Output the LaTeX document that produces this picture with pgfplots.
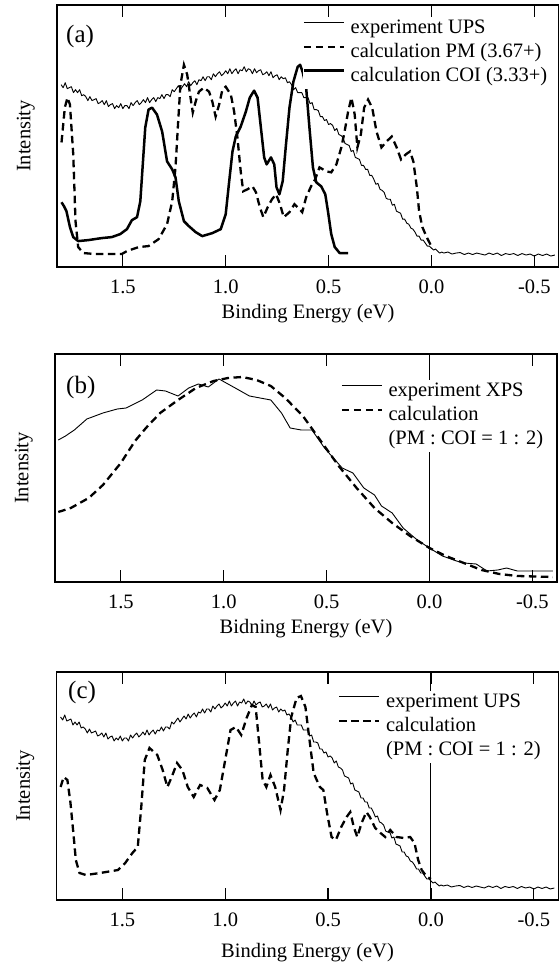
\documentclass[border=0pt]{standalone}
\usepackage{fontspec}
\setmainfont{Liberation Serif}
\usepackage{pgfplots}
\usepackage{pgfplotstable}
\pgfplotsset{compat=1.18}

% experiment UPS (panels a and c)
\pgfplotstableread{
E v
1.80 183
1.79 180
1.78 185
1.77 179
1.76 180
1.75 181
1.74 175
1.73 178
1.72 175
1.71 178
1.70 172
1.69 173
1.68 171
1.67 167
1.66 171
1.65 167
1.64 168
1.63 169
1.62 164
1.61 165
1.60 167
1.59 163
1.58 167
1.57 161
1.56 163
1.55 164
1.54 159
1.53 162
1.52 160
1.51 164
1.50 159
1.49 162
1.48 162
1.47 159
1.46 165
1.45 162
1.44 165
1.43 167
1.42 163
1.41 165
1.40 168
1.39 165
1.38 170
1.37 165
1.36 168
1.35 170
1.34 166
1.33 170
1.32 169
1.31 173
1.30 169
1.29 173
1.28 173
1.27 171
1.26 178
1.25 176
1.24 179
1.23 182
1.22 178
1.21 181
1.20 184
1.19 181
1.18 186
1.17 182
1.16 185
1.15 187
1.14 183
1.13 188
1.12 187
1.11 191
1.10 187
1.09 191
1.08 191
1.07 188
1.06 194
1.05 191
1.04 194
1.03 196
1.02 192
1.01 194
1.00 197
0.99 194
0.98 199
0.97 194
0.96 197
0.95 199
0.94 194
0.93 198
0.92 197
0.91 201
0.90 196
0.89 199
0.88 198
0.87 194
0.86 199
0.85 195
0.84 197
0.83 198
0.82 193
0.81 194
0.80 196
0.79 192
0.78 196
0.77 190
0.76 192
0.75 193
0.74 188
0.73 191
0.72 189
0.71 190
0.70 185
0.69 186
0.68 183
0.67 178
0.66 180
0.65 175
0.64 175
0.63 175
0.62 170
0.61 170
0.60 170
0.59 164
0.58 165
0.57 158
0.56 158
0.55 157
0.54 151
0.53 151
0.52 147
0.51 148
0.50 143
0.49 144
0.48 142
0.47 137
0.46 139
0.45 133
0.44 132
0.43 130
0.42 124
0.41 123
0.40 122
0.39 116
0.38 117
0.37 110
0.36 109
0.35 108
0.34 102
0.33 102
0.32 98
0.31 98
0.30 92
0.29 92
0.28 88
0.27 83
0.26 84
0.25 78
0.24 77
0.23 75
0.22 69
0.21 68
0.20 68
0.19 62
0.18 63
0.17 56
0.16 55
0.15 54
0.14 48
0.13 48
0.12 44
0.11 43
0.10 39
0.09 38
0.08 35
0.07 31
0.06 31
0.05 27
0.04 27
0.03 24
0.02 21
0.01 21
0.00 19
-0.01 17
-0.02 18
-0.03 16
-0.04 14
-0.05 15
-0.06 14
-0.08 15
-0.10 13
-0.12 14
-0.14 14.5
-0.16 12.5
-0.18 14
-0.20 12.5
-0.22 14
-0.24 13
-0.26 12
-0.28 14
-0.30 12.5
-0.32 14
-0.34 11.5
-0.36 13.5
-0.38 12.5
-0.40 13.5
-0.42 11.5
-0.44 13.5
-0.46 12
-0.48 13
-0.50 11
-0.52 13
-0.54 11.5
-0.56 13
-0.58 11
-0.60 12
}\upsdata

% calculation PM (3.67+), panel a
\pgfplotstableread{
E v
1.798 125
1.782 160
1.769 170
1.757 163
1.741 113
1.730 46
1.717 20
1.692 14
1.635 13
1.505 13
1.480 16
1.423 20
1.375 21
1.326 28
1.285 43
1.260 66
1.244 100
1.231 146
1.220 183
1.203 203
1.187 193
1.171 170
1.160 155
1.146 166
1.130 176
1.106 180
1.081 176
1.065 166
1.049 151
1.032 163
1.016 178
1.000 181
0.975 173
0.959 156
0.943 130
0.927 96
0.915 76
0.894 78
0.870 81
0.853 75
0.834 60
0.817 50
0.796 60
0.775 68
0.755 73
0.736 63
0.718 50
0.690 55
0.666 63
0.641 58
0.628 55
0.609 70
0.585 81
0.565 88
0.544 100
0.511 96
0.487 95
0.462 103
0.438 120
0.422 136
0.405 156
0.389 170
0.373 153
0.360 120
0.343 133
0.327 160
0.308 168
0.288 160
0.267 136
0.243 120
0.218 126
0.193 131
0.169 120
0.148 108
0.125 113
0.104 116
0.088 106
0.071 80
0.060 56
0.044 40
0.023 30
0.006 23
-0.002 20
}\pmdata

% calculation COI (3.33+), panel a
\pgfplotstableread{
E v
1.798 65
1.786 61
1.774 56
1.757 40
1.741 30
1.717 26
1.668 27
1.603 29
1.554 30
1.513 33
1.480 38
1.456 47
1.431 50
1.415 66
1.404 100
1.391 140
1.375 158
1.358 160
1.334 153
1.309 136
1.285 106
1.260 98
1.244 90
1.228 66
1.203 46
1.179 41
1.146 35
1.114 31
1.065 34
1.024 38
1.000 53
0.983 86
0.967 116
0.951 131
0.927 141
0.902 156
0.883 170
0.862 177
0.845 170
0.829 140
0.813 110
0.801 103
0.780 110
0.764 103
0.753 80
0.739 73
0.723 86
0.707 123
0.690 160
0.671 186
0.650 201
0.638 203
0.625 195
0.609 180
0.593 140
0.576 100
0.560 85
0.536 81
0.516 73
0.503 56
0.487 33
0.470 20
0.446 14
0.405 14
}\coidata

% experiment XPS, panel b
\pgfplotstableread{
E v
1.804 142
1.769 146
1.726 152
1.665 163
1.587 169
1.517 173
1.474 174
1.396 182
1.326 192
1.283 191
1.222 186
1.170 194
1.123 198
1.075 195
1.023 203
0.944 194
0.875 186
0.771 182
0.719 169
0.677 154
0.623 152
0.571 152
0.510 134
0.424 114
0.372 109
0.319 94
0.267 87
0.233 76
0.181 69
0.128 54
0.059 42
0.000 34
-0.063 26
-0.132 21
-0.167 19
-0.227 18
-0.280 11
-0.332 12
-0.375 14
-0.427 11
-0.514 11
-0.600 11
}\xpsdata

% calculation (PM : COI = 1 : 2), panel b
\pgfplotstableread{
E v
1.804 70
1.743 74
1.656 84
1.587 97
1.500 119
1.431 141
1.378 154
1.309 169
1.222 182
1.135 194
1.049 201
0.979 204
0.910 205
0.840 202
0.771 196
0.701 184
0.615 166
0.528 141
0.441 116
0.354 94
0.267 74
0.181 59
0.094 46
0.000 34
-0.080 26
-0.167 19
-0.253 12
-0.340 8
-0.427 6
-0.600 5
}\calcb

% calculation (PM : COI = 1 : 2), panel c
\pgfplotstableread{
E v
1.800 113
1.785 123
1.767 120
1.752 97
1.738 67
1.726 40
1.708 27
1.677 25
1.608 27
1.521 30
1.486 37
1.451 47
1.425 53
1.408 93
1.391 140
1.368 152
1.330 145
1.304 130
1.281 113
1.260 123
1.234 137
1.208 130
1.182 113
1.153 103
1.122 115
1.087 112
1.052 100
1.026 110
1.000 140
0.974 170
0.948 173
0.922 165
0.896 182
0.870 195
0.852 193
0.835 157
0.818 120
0.800 113
0.780 125
0.757 113
0.731 90
0.714 110
0.696 150
0.679 183
0.653 202
0.632 204
0.610 193
0.592 163
0.570 127
0.540 113
0.523 110
0.505 87
0.483 63
0.462 60
0.436 73
0.410 83
0.392 88
0.375 73
0.358 63
0.337 77
0.314 88
0.297 83
0.271 72
0.245 67
0.222 63
0.198 70
0.167 63
0.132 62
0.101 63
0.080 57
0.062 40
0.045 30
0.019 23
0.000 21
}\calcc

\tikzset{plabel/.style={anchor=west, inner sep=0pt, font=\fontsize{25pt}{30pt}\selectfont}}

\pgfplotsset{
  panel/.style={
    scale only axis, width=502pt, anchor=south west,
    x dir=reverse, xmin=-0.62, xmax=1.82, ymin=0,
    xtick={-0.5,0,0.5,1,1.5}, xticklabels={-0.5,0.0,0.5,1.0,1.5},
    xticklabel style={anchor=center, yshift=-20pt},
    ytick=\empty, major tick length=12pt,
    tick style={line width=1.2pt, black},
    axis line style={line width=1.2pt},
    every axis y label/.style={at={(axis description cs:-0.0619,0.5)}, rotate=90, anchor=center},
    every axis x label/.style={at={(axis description cs:0.5,0)}, anchor=center, yshift=-47pt},
    legend cell align=left,
    legend image code/.code={\draw[##1] (0pt,6pt) -- (40pt,6pt);},
    legend style={draw=none, fill=white, inner sep=0pt, row sep=0pt, column sep=3pt,
      nodes={inner sep=2.5pt, text height=14pt, text depth=5pt}},
  },
  ups/.style={black, line width=0.9pt, line join=round},
  calc/.style={black, line width=2.3pt, dash pattern=on 7.5pt off 4.5pt},
  coi/.style={black, line width=2.5pt, line join=round},
}

\begin{document}
\fontsize{20.5pt}{24.6pt}\selectfont
\begin{tikzpicture}
\path[use as bounding box] (0,0) rectangle (559pt,967pt);

% ---------- (a) ----------
\begin{axis}[panel, at={(57pt,700pt)}, height=262pt, ymax=263,
  xlabel={Binding Energy (eV)}, ylabel={Intensity},
  legend style={at={(axis description cs:0.489,0.956)}, anchor=north west}]
\addplot[ups] table {\upsdata};
\addlegendentry{experiment UPS}
\addplot[calc] table {\pmdata};
\addlegendentry{calculation PM (3.67+)}
\addplot[coi] table {\coidata};
\addlegendentry{calculation COI (3.33+)}
\node[plabel] at (rel axis cs:0.018,0.878) {(a)};
\end{axis}

% ---------- (b) ----------
\begin{axis}[panel, at={(55pt,385pt)}, height=228pt, ymax=228,
  xlabel={Bidning Energy (eV)}, ylabel={Intensity},
  legend style={at={(axis description cs:0.569,0.888)}, anchor=north west}]
\addplot[black, line width=0.9pt, forget plot] coordinates {(0,0) (0,228)};
\addplot[ups] table {\xpsdata};
\addlegendentry{experiment XPS}
\addplot[calc] table {\calcb};
\addlegendentry{calculation}
\addlegendimage{empty legend}
\addlegendentry{(PM : COI = 1 : 2)}
\node[plabel] at (rel axis cs:0.022,0.851) {(b)};
\end{axis}

% ---------- (c) ----------
\begin{axis}[panel, at={(56.5pt,67pt)}, height=228pt, ymax=228,
  xlabel={Binding Energy (eV)}, ylabel={Intensity},
  x label style={yshift=-6pt},
  legend style={at={(axis description cs:0.561,0.919)}, anchor=north west}]
\addplot[black, line width=0.9pt, forget plot] coordinates {(0,0) (0,228)};
\addplot[ups] table {\upsdata};
\addlegendentry{experiment UPS}
\addplot[calc] table {\calcc};
\addlegendentry{calculation}
\addlegendimage{empty legend}
\addlegendentry{(PM : COI = 1 : 2)}
\node[plabel] at (rel axis cs:0.023,0.908) {(c)};
\end{axis}
\end{tikzpicture}
\end{document}
